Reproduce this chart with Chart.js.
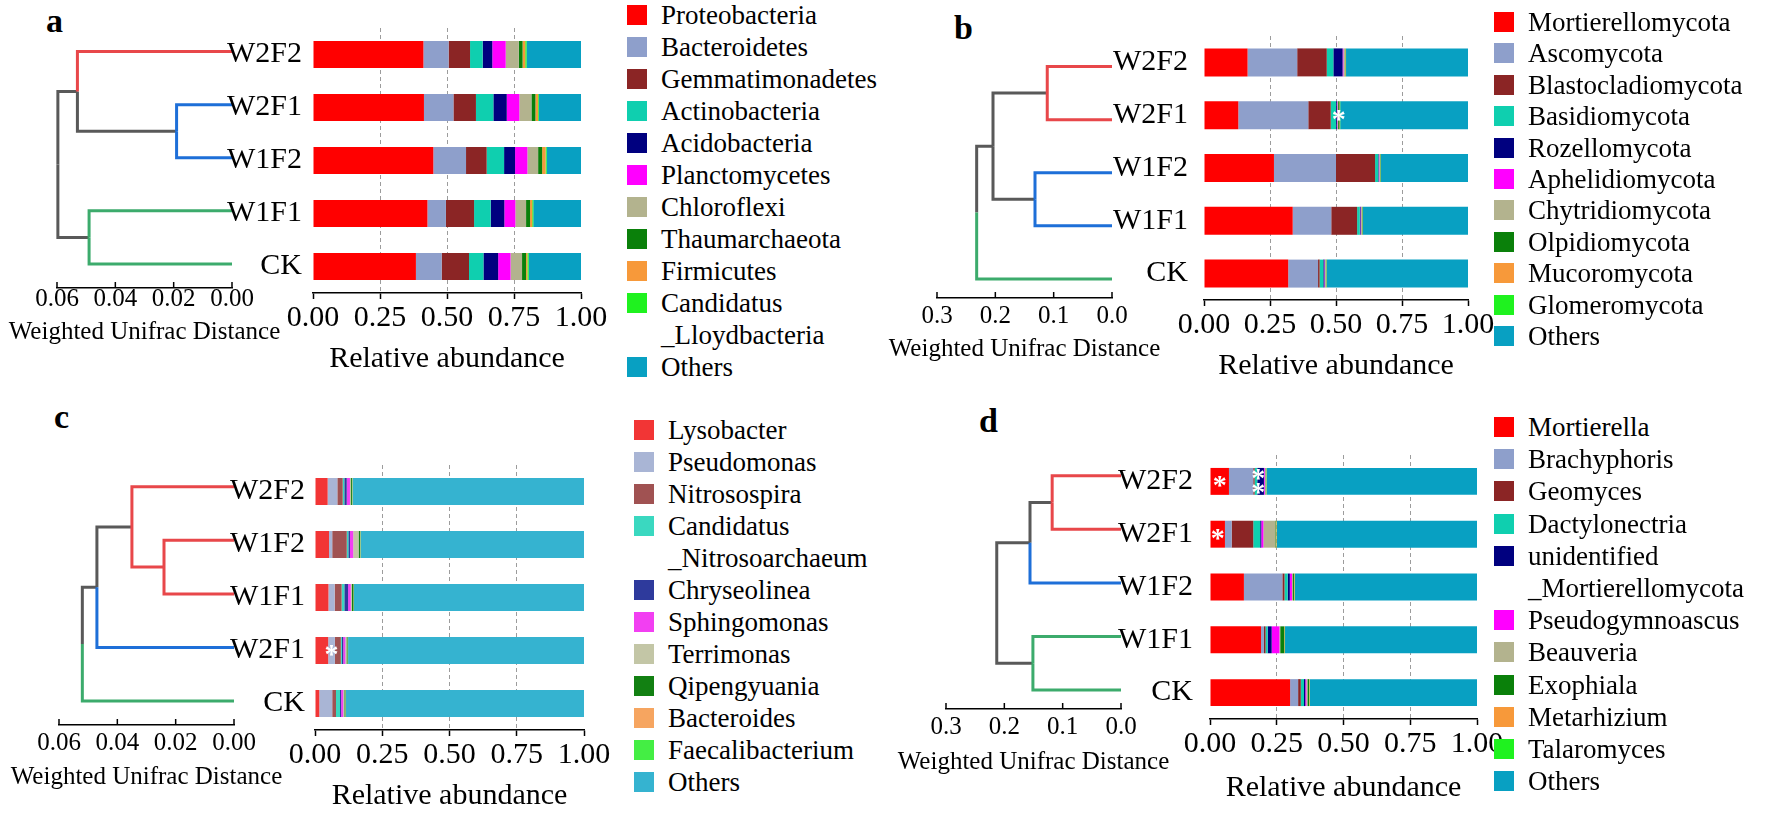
<!DOCTYPE html>
<html><head><meta charset="utf-8">
<script src="https://cdn.jsdelivr.net/npm/chart.js@4.4.1/dist/chart.umd.min.js"></script>
<style>
html,body{margin:0;padding:0;background:#fff;}
#fig{position:relative;width:1784px;height:813px;overflow:hidden;background:#fff;font-family:"Liberation Serif","DejaVu Serif","Times New Roman",serif;color:#000;}
.cwrap{position:absolute;}
.t{position:absolute;white-space:nowrap;transform:translate(-50%,-50%);line-height:1;}
.tl{position:absolute;white-space:nowrap;transform:translateY(-50%);line-height:1;}
.letter{position:absolute;font-weight:bold;font-size:34px;line-height:34px;}
.box{position:absolute;width:20px;height:20px;}
</style></head>
<body><div id="fig"></div>
<script>
// ================= DATA =================
// ---- panel a : bacterial phyla ----
const samplesA = ['W2F2','W2F1','W1F2','W1F1','CK'];
const taxaA = ['Proteobacteria','Bacteroidetes','Gemmatimonadetes','Actinobacteria','Acidobacteria','Planctomycetes','Chloroflexi','Thaumarchaeota','Firmicutes','Candidatus\n_Lloydbacteria','Others'];
const abundA = [
  [0.412,0.414,0.449,0.427,0.384],
  [0.094,0.110,0.122,0.069,0.096],
  [0.080,0.084,0.077,0.105,0.102],
  [0.047,0.065,0.065,0.062,0.054],
  [0.036,0.050,0.041,0.051,0.055],
  [0.050,0.047,0.046,0.041,0.046],
  [0.049,0.045,0.040,0.040,0.043],
  [0.014,0.015,0.015,0.015,0.015],
  [0.010,0.010,0.013,0.008,0.005],
  [0.005,0.003,0.004,0.004,0.005],
  [0.203,0.157,0.128,0.178,0.195]
];
const clustersA = ['r','b','b','g','g'];
const mergesA = [[1,2,0.019],[0,5,0.053],[3,4,0.049],[6,7,0.0597]];
const sigA = [];

// ---- panel b : fungal phyla ----
const samplesB = ['W2F2','W2F1','W1F2','W1F1','CK'];
const taxaB = ['Mortierellomycota','Ascomycota','Blastocladiomycota','Basidiomycota','Rozellomycota','Aphelidiomycota','Chytridiomycota','Olpidiomycota','Mucoromycota','Glomeromycota','Others'];
const abundB = [
  [0.165,0.130,0.265,0.336,0.319],
  [0.188,0.265,0.235,0.146,0.113],
  [0.112,0.085,0.148,0.098,0.006],
  [0.025,0.020,0.012,0.010,0.014],
  [0.035,0.003,0.002,0.003,0.004],
  [0.003,0.002,0.002,0.002,0.002],
  [0.005,0.003,0.002,0.003,0.003],
  [0.002,0.005,0.002,0.002,0.002],
  [0.002,0.002,0.001,0.001,0.001],
  [0.001,0.001,0.001,0.001,0.001],
  [0.462,0.484,0.330,0.398,0.535]
];
const clustersB = ['r','r','b','b','g'];
const mergesB = [[0,1,0.111],[2,3,0.132],[5,6,0.204],[7,4,0.232]];
const sigB = [['W2F1','Olpidiomycota']];

// ---- panel c : bacterial genera ----
const samplesC = ['W2F2','W1F2','W1F1','W2F1','CK'];
const taxaC = ['Lysobacter','Pseudomonas','Nitrosospira','Candidatus\n_Nitrosoarchaeum','Chryseolinea','Sphingomonas','Terrimonas','Qipengyuania','Bacteroides','Faecalibacterium','Others'];
const abundC = [
  [0.047,0.052,0.050,0.049,0.016],
  [0.036,0.012,0.023,0.025,0.048],
  [0.020,0.054,0.026,0.022,0.014],
  [0.006,0.006,0.010,0.004,0.015],
  [0.009,0.006,0.014,0.005,0.004],
  [0.012,0.012,0.010,0.008,0.008],
  [0.004,0.020,0.004,0.004,0.004],
  [0.004,0.006,0.006,0.004,0.004],
  [0.001,0.001,0.001,0.001,0.001],
  [0.001,0.001,0.001,0.001,0.001],
  [0.860,0.830,0.855,0.877,0.885]
];
const clustersC = ['r','r','r','b','g'];
const mergesC = [[1,2,0.024],[0,5,0.035],[6,3,0.047],[7,4,0.052]];
const sigC = [['W2F1','Pseudomonas']];

// ---- panel d : fungal genera ----
const samplesD = ['W2F2','W2F1','W1F2','W1F1','CK'];
const taxaD = ['Mortierella','Brachyphoris','Geomyces','Dactylonectria','unidentified\n_Mortierellomycota','Pseudogymnoascus','Beauveria','Exophiala','Metarhizium','Talaromyces','Others'];
const abundD = [
  [0.071,0.056,0.127,0.191,0.300],
  [0.091,0.025,0.144,0.011,0.030],
  [0.005,0.081,0.008,0.006,0.010],
  [0.010,0.026,0.012,0.008,0.012],
  [0.025,0.004,0.008,0.015,0.005],
  [0.003,0.008,0.008,0.029,0.004],
  [0.003,0.044,0.004,0.003,0.004],
  [0.002,0.002,0.004,0.015,0.006],
  [0.001,0.003,0.002,0.002,0.002],
  [0.001,0.001,0.001,0.001,0.001],
  [0.788,0.750,0.682,0.719,0.626]
];
const clustersD = ['r','r','b','g','g'];
const mergesD = [[0,1,0.118],[5,2,0.156],[3,4,0.151],[6,7,0.213]];
const sigD = [['W2F2','Mortierella'],['W2F2','Dactylonectria'],['W2F2','unidentified_Mortierellomycota'],['W2F1','Mortierella']];

// axis ticks
const barTickStep = 0.25;
const dendroTickStepAC = 0.02;
const dendroTickStepBD = 0.1;

// ================= STYLE / LAYOUT =================
const pal1 = ['#FF0000','#8E9FCB','#8B2525','#0FCFAF','#00007F','#FF00FF','#B3B38E','#0A800A','#F7993A','#1FF21F','#08A0C2'];
const pal2 = ['#F23535','#A9B5D5','#A05252','#3AD8C0','#2E3A9C','#F23FF2','#C3C6A6','#128012','#F6A560','#44EE44','#35B3D0'];
const treeCols = {r:'#E8474A', b:'#1E6FD8', g:'#3CAB6C', k:'#595959'};

const L = {
  a:{dendro:{x0:57,x1:232,leaf0:51,step:53,axisY:287,max:0.06,tick:dendroTickStepAC,dig:2,lblPad:-4},
     bars:{x0:313,x1:581,top:28,step:53,labelPad:3,bar:0.51},
     legend:{boxX:627,textX:661,y0:15,step:32}, letter:{x:46,y:4}, wud:{cx:144.5,cy:330}, ra:{cx:447,cy:357}},
  b:{dendro:{x0:937,x1:1112,leaf0:66,step:53,axisY:297,max:0.3,tick:dendroTickStepBD,dig:1,lblPad:3},
     bars:{x0:1204,x1:1468,top:35.8,step:52.8,labelPad:8,bar:0.53},
     legend:{boxX:1494,textX:1528,y0:22,step:31.4}, letter:{x:954,y:11}, wud:{cx:1024.5,cy:347}, ra:{cx:1336,cy:364}},
  c:{dendro:{x0:59,x1:234,leaf0:487,step:53.5,axisY:725,max:0.06,tick:dendroTickStepAC,dig:2,lblPad:3},
     bars:{x0:315,x1:584,top:464.5,step:53,labelPad:2,bar:0.51},
     legend:{boxX:634,textX:668,y0:430,step:32}, letter:{x:54,y:400}, wud:{cx:146.5,cy:775}, ra:{cx:449.5,cy:794}},
  d:{dendro:{x0:946,x1:1121,leaf0:476,step:53.5,axisY:709,max:0.3,tick:dendroTickStepBD,dig:1,lblPad:3},
     bars:{x0:1210,x1:1477,top:455,step:52.75,labelPad:9,bar:0.51},
     legend:{boxX:1494,textX:1528,y0:427,step:32.2}, letter:{x:979,y:404}, wud:{cx:1033.5,cy:760}, ra:{cx:1343.5,cy:786}}
};

Chart.defaults.font.family = '"Liberation Serif","DejaVu Serif","Times New Roman",serif';
Chart.defaults.color = '#000';

const fig = document.getElementById('fig');
function makeCanvas(left, top, w, h){
  const d = document.createElement('div');
  d.className = 'cwrap';
  d.style.left = left+'px'; d.style.top = top+'px'; d.style.width = w+'px'; d.style.height = h+'px';
  const c = document.createElement('canvas');
  c.width = Math.round(w); c.height = Math.round(h);
  c.style.width = Math.round(w)+'px'; c.style.height = Math.round(h)+'px';
  d.appendChild(c); fig.appendChild(d);
  return c;
}
function addText(txt, x, y, size, cls){
  const s = document.createElement('div');
  s.className = cls || 't';
  s.style.left = x+'px'; s.style.top = y+'px'; s.style.fontSize = size+'px';
  s.textContent = txt; fig.appendChild(s); return s;
}
function zeroPad(s){ s.paddingLeft = 0; s.paddingRight = 0; s.paddingTop = 0; s.paddingBottom = 0; }

// stars plugin (significance marks)
const starPlugin = {
  id:'stars',
  afterDatasetsDraw(chart, args, opts){
    const marks = (opts && opts.marks) || [];
    if (!marks.length) return;
    const ctx = chart.ctx;
    const pts = marks.map(([sample, taxon]) => {
      const di = chart.data.labels.indexOf(sample);
      const dsi = chart.data.datasets.findIndex(d => d.label === taxon);
      const el = chart.getDatasetMeta(dsi).data[di];
      return {di, cx:(el.x+el.base)/2, cy:el.y, h:el.height};
    });
    const used = new Array(pts.length).fill(false);
    ctx.save();
    ctx.fillStyle = '#fff';
    const fs = 28;
    ctx.font = 'bold '+fs+'px "Liberation Serif"';
    ctx.textAlign = 'center'; ctx.textBaseline = 'alphabetic';
    pts.forEach((p,i) => {
      if (used[i]) return;
      const grp = [i];
      pts.forEach((q,j) => { if (j>i && !used[j] && q.di===p.di && Math.abs(q.cx-p.cx) < 12) grp.push(j); });
      grp.forEach(j => used[j] = true);
      const mx = grp.reduce((s,j)=>s+pts[j].cx,0)/grp.length;
      grp.forEach((j,k) => {
        const off = grp.length>1 ? (k-(grp.length-1)/2)*p.h*0.55 : 0;
        ctx.fillText('*', mx, p.cy + off + fs*0.45);
      });
    });
    ctx.restore();
  }
};

// upward ticks on dendrogram scale
const upTicks = {
  id:'upTicks',
  afterDraw(chart){
    const s = chart.scales.x, ctx = chart.ctx;
    ctx.save(); ctx.strokeStyle = '#000'; ctx.lineWidth = 1.5;
    s.ticks.forEach(t => {
      const px = s.getPixelForValue(t.value);
      ctx.beginPath(); ctx.moveTo(px, s.top); ctx.lineTo(px, s.top-6); ctx.stroke();
    });
    ctx.restore();
  }
};

function dendroDatasets(clusters, merges){
  const n = clusters.length;
  const nodes = clusters.map((c,i)=>({h:0, y:i, leaves:[i]}));
  merges.forEach(([a,b,h]) => {
    nodes.push({h, y:(nodes[a].y+nodes[b].y)/2, leaves:[...nodes[a].leaves, ...nodes[b].leaves], kids:[a,b]});
  });
  const ds = [];
  nodes.forEach(p => {
    if (!p.kids) return;
    const c0 = clusters[p.leaves[0]];
    const pure = p.leaves.every(l => clusters[l] === c0);
    p.kids.forEach(ci => {
      const c = nodes[ci];
      const col = ci < n ? treeCols[clusters[ci]] : (pure ? treeCols[c0] : treeCols.k);
      ds.push({data:[{x:c.h,y:c.y},{x:p.h,y:c.y},{x:p.h,y:p.y}], borderColor:col, backgroundColor:col,
               borderWidth:3, showLine:true, pointRadius:0, tension:0, clip:false,
               borderCapStyle:'butt', borderJoinStyle:'miter', order: col===treeCols.k ? 1 : 0});
    });
  });
  return ds;
}

function dendroChart(clusters, merges, D){
  const padX = 34, xH = 48;
  const plotW = D.x1 - D.x0;
  const plotTop = D.leaf0 - D.step/2;
  const plotH = D.axisY - plotTop;
  const cv = makeCanvas(D.x0 - padX, plotTop, plotW + 2*padX, plotH + xH);
  new Chart(cv, {
    type:'scatter',
    data:{datasets: dendroDatasets(clusters, merges)},
    options:{
      responsive:false, animation:false, devicePixelRatio:1,
      layout:{padding:{left:padX,right:padX,top:0,bottom:0}},
      plugins:{legend:{display:false}, tooltip:{enabled:false}},
      scales:{
        x:{type:'linear', reverse:true, min:0, max:D.max,
           ticks:{stepSize:D.tick, callback:v=>Number(v).toFixed(D.dig), font:{size:25}, color:'#000', padding:D.lblPad, autoSkip:false, maxRotation:0},
           grid:{drawOnChartArea:false, drawTicks:false},
           border:{display:true, color:'#000', width:1.5},
           afterFit:s=>{ s.height = xH; zeroPad(s); }},
        y:{type:'linear', reverse:true, min:-0.5, max:(D.axisY - D.leaf0)/D.step, display:false}
      }
    },
    plugins:[upTicks]
  });
}

function barChart(samples, taxa, abund, colors, B, sig){
  const yW = 120, padTop = 12, padRight = 34, xH = 50;
  const plotW = B.x1 - B.x0, plotH = samples.length*B.step;
  const cv = makeCanvas(B.x0 - yW, B.top - padTop, yW + plotW + padRight, padTop + plotH + xH);
  new Chart(cv, {
    type:'bar',
    data:{labels:samples, datasets: taxa.map((t,i)=>({label:t.replace('\n',''), data:abund[i], backgroundColor:colors[i],
          borderWidth:0, barPercentage:B.bar, categoryPercentage:1}))},
    options:{
      indexAxis:'y', responsive:false, animation:false, devicePixelRatio:1,
      layout:{padding:{top:padTop,right:padRight,left:0,bottom:0}},
      plugins:{legend:{display:false}, tooltip:{enabled:false}, stars:{marks:sig}},
      scales:{
        x:{type:'linear', stacked:true, min:0, max:1,
           ticks:{stepSize:barTickStep, callback:v=>Number(v).toFixed(2), font:{size:30}, color:'#000', padding:1, autoSkip:false, maxRotation:0},
           grid:{color:c=>(c.tick && c.tick.value>0.001 && c.tick.value<0.999) ? '#9c9c9c' : 'rgba(0,0,0,0)',
                 lineWidth:1, tickColor:'#000', tickLength:6, tickWidth:1.5},
           border:{display:true, color:'#000', width:1.5, dash:[4,3]},
           afterFit:s=>{ s.height = xH; zeroPad(s); }},
        y:{type:'category', stacked:true,
           ticks:{font:{size:30}, color:'#000', padding:B.labelPad, autoSkip:false},
           grid:{display:false}, border:{display:false},
           afterFit:s=>{ s.width = yW; zeroPad(s); }}
      }
    },
    plugins:[starPlugin]
  });
}

function legend(taxa, colors, G){
  let row = 0;
  taxa.forEach((name, i) => {
    name.split('\n').forEach((line, j) => {
      const y = G.y0 + row*G.step;
      if (j === 0){
        const b = document.createElement('div');
        b.className = 'box';
        b.style.left = G.boxX+'px'; b.style.top = (y-10)+'px'; b.style.background = colors[i];
        fig.appendChild(b);
      }
      addText(line, G.textX, y, 27, 'tl');
      row++;
    });
  });
}

function panel(key, samples, taxa, abund, colors, clusters, merges, sig){
  const P = L[key];
  const lt = document.createElement('div');
  lt.className = 'letter'; lt.style.left = P.letter.x+'px'; lt.style.top = P.letter.y+'px'; lt.textContent = key;
  fig.appendChild(lt);
  dendroChart(clusters, merges, P.dendro);
  barChart(samples, taxa, abund, colors, P.bars, sig);
  legend(taxa, colors, P.legend);
  addText('Weighted Unifrac Distance', P.wud.cx, P.wud.cy, 25);
  addText('Relative abundance', P.ra.cx, P.ra.cy, 30);
}

panel('a', samplesA, taxaA, abundA, pal1, clustersA, mergesA, sigA);
panel('b', samplesB, taxaB, abundB, pal1, clustersB, mergesB, sigB);
panel('c', samplesC, taxaC, abundC, pal2, clustersC, mergesC, sigC);
panel('d', samplesD, taxaD, abundD, pal1, clustersD, mergesD, sigD);
</script>
</body></html>
